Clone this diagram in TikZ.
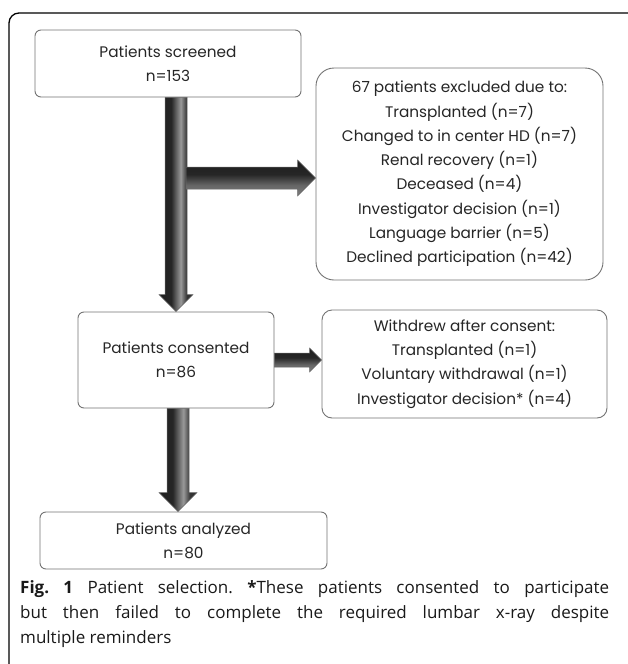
\documentclass[tikz,border=0pt]{standalone}
\usepackage{fontspec}
\setmainfont{Open Sans}
\newfontfamily\boxfont{Poppins}
\usetikzlibrary{calc}

% shadings for the block arrows
\pgfdeclarehorizontalshading{downshade}{100bp}{color(0bp)=(black!88); color(25bp)=(black!88); color(43bp)=(black!85); color(57bp)=(black!40); color(66bp)=(black!80); color(75bp)=(black!80); color(100bp)=(black!80)}
\pgfdeclareverticalshading{rightshade}{100bp}{color(0bp)=(black!50); color(25bp)=(black!50); color(40bp)=(black!60); color(55bp)=(black!85); color(75bp)=(black!88); color(100bp)=(black!88)}

\tikzset{
  flowbox/.style={draw=black!55, line width=0.9pt, rounded corners=6pt, fill=white,
    align=center, inner sep=0pt, text=black!85, font=\boxfont\fontsize{15.3}{24.3}\selectfont},
  varrow/.style={shading=downshade, draw=black!60, line width=0.5pt},
  harrow/.style={shading=rightshade, draw=black!60, line width=0.5pt},
  caption/.style={anchor=north west, inner sep=0pt, text width=589pt, align=justify,
    text=black!90, font=\fontsize{17}{25}\selectfont\frenchspacing}
}

% #1 start, #2 tip, #3 half shaft, #4 half head (= head length)
\newcommand\vblock[4]{%
  \path[varrow] let \p1=(#1), \p2=(#2) in
    (\x1-#3,\y1) -- (\x1-#3,\y2+#4) -- (\x1-#4,\y2+#4) -- (\x2,\y2)
    -- (\x1+#4,\y2+#4) -- (\x1+#3,\y2+#4) -- (\x1+#3,\y1) -- cycle;}
\newcommand\hblock[4]{%
  \path[harrow] let \p1=(#1), \p2=(#2) in
    (\x1,\y1+#3) -- (\x2-#4,\y1+#3) -- (\x2-#4,\y1+#4) -- (\x2,\y2)
    -- (\x2-#4,\y1-#4) -- (\x2-#4,\y1-#3) -- (\x1,\y1-#3) -- cycle;}

\begin{document}
\begin{tikzpicture}[x=1pt, y=-1pt]
  \useasboundingbox (0,0) rectangle (627,664);
  \draw[line width=1.3pt, rounded corners=10pt] (630,13) -- (9,13) -- (9,668);

  \node[flowbox, minimum width=266pt, minimum height=67pt] (screened) at (168,63.5)
    {Patients screened\\n=153};
  \node[flowbox, rounded corners=18pt, minimum width=287pt, minimum height=212pt] (excluded) at (459.5,174)
    {67 patients excluded due to:\\Transplanted (n=7)\\Changed to in center HD (n=7)\\Renal recovery (n=1)\\Deceased (n=4)\\Investigator decision (n=1)\\Language barrier (n=5)\\Declined participation (n=42)};
  \node[flowbox, minimum width=196pt, minimum height=96pt] (consented) at (176,360)
    {Patients consented\\n=86};
  \node[flowbox, rounded corners=10pt, minimum width=285pt, minimum height=108pt] (withdrew) at (464.5,364)
    {Withdrew after consent:\\Transplanted (n=1)\\Voluntary withdrawal (n=1)\\Investigator decision* (n=4)};
  \node[flowbox, minimum width=287pt, minimum height=57pt] (analyzed) at (183.5,540.5)
    {Patients analyzed\\n=80};

  \coordinate (exin) at ($(excluded.west)+(0,4)$);
  \vblock{screened.south -| consented.north}{consented.north}{11pt}{17pt}
  \hblock{$(exin -| consented.north)+(10,0)$}{exin}{11pt}{18pt}
  \hblock{consented.east}{consented.east -| withdrew.west}{7pt}{12pt}
  \vblock{$(consented.south)+(2,0)$}{analyzed.north -| {$(consented.south)+(2,0)$}}{11pt}{19pt}

  \node[caption] (cap) at (20,580)
    {\textbf{Fig. 1} Patient selection. \textbf{*}These patients consented to participate\linebreak
     but then failed to complete the required lumbar x-ray despite\linebreak
     multiple reminders};
\end{tikzpicture}
\end{document}
